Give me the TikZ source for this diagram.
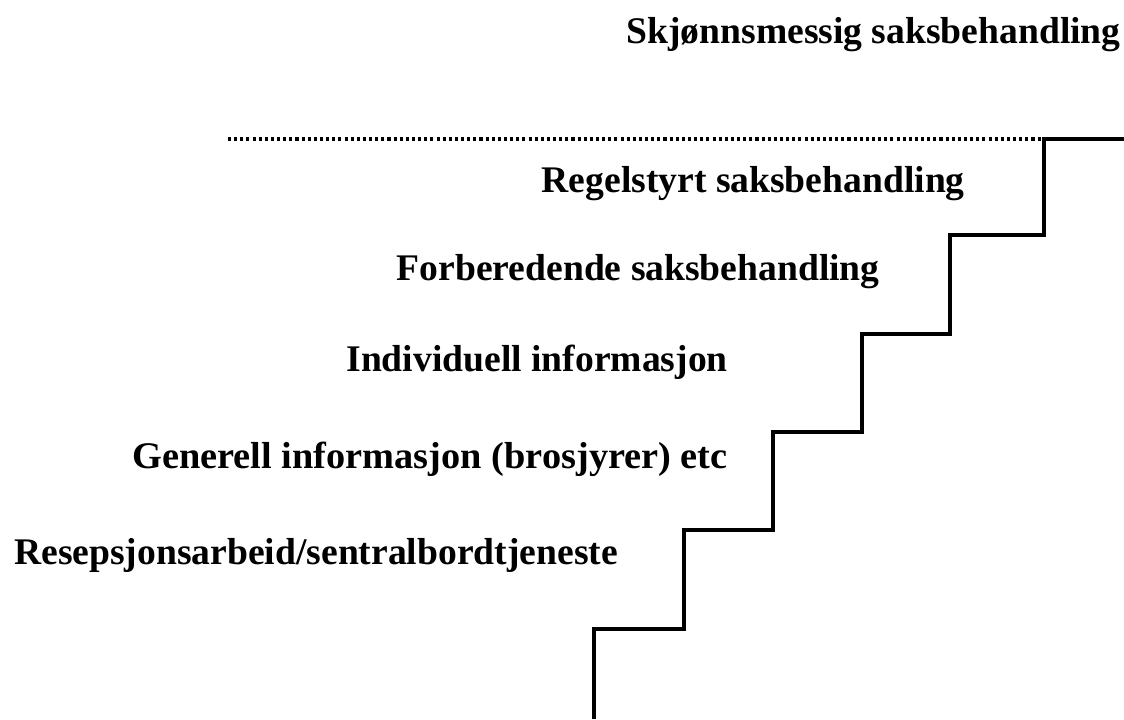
\documentclass[tikz,border=0pt]{standalone}
\usepackage{fontspec}
\setmainfont{Liberation Serif}
\usetikzlibrary{positioning,calc}
\tikzset{
  level/.style  = {inner sep=0pt,font=\fontsize{28.2}{31}\selectfont\bfseries},
  stair/.style  = {line width=2.3pt,line join=miter,color=black},
  limit/.style  = {line width=2.3pt,dash pattern=on 2.3pt off 2.3pt,color=black},
}
\begin{document}
\begin{tikzpicture}[x=0.75pt,y=-0.75pt]
  \useasboundingbox (0,0) rectangle (1124,719);
  % corners of the stair
  \coordinate (s0) at (594,719);
  \coordinate (s1) at (594,629);
  \coordinate (s2) at (684,629);
  \coordinate (s3) at (684,530);
  \coordinate (s4) at (773,530);
  \coordinate (s5) at (773,432);
  \coordinate (s6) at (862,432);
  \coordinate (s7) at (862,334);
  \coordinate (s8) at (950,334);
  \coordinate (s9) at (950,235);
  \coordinate (s10) at (1044,235);
  \coordinate (s11) at (1044,139);
  \coordinate (s12) at (1124,139);
  \coordinate (d0) at (228,139);
  \draw[stair] (s0) -- (s1) -- (s2) -- (s3) -- (s4) -- (s5) -- (s6)
        -- (s7) -- (s8) -- (s9) -- (s10) -- (s11) -- (s12);
  \draw[limit] (d0) -- (s11);
  % levels
  \node[level,anchor=base east] (skjonn) at (1121,43) {Skjønnsmessig saksbehandling};
  \node[level,anchor=base east] (regel) at (965,192) {Regelstyrt saksbehandling};
  \node[level,anchor=base east] (forb) at (880,280) {Forberedende saksbehandling};
  \node[level,anchor=base east] (indiv) at (728,371) {Individuell informasjon};
  \node[level,anchor=base east,xscale=1.02] (gen) at (728,468) {Generell informasjon (brosjyrer) etc};
  \node[level,anchor=base west] (resep) at (14,564) {Resepsjonsarbeid/sentralbordtjeneste};
\end{tikzpicture}
\end{document}
